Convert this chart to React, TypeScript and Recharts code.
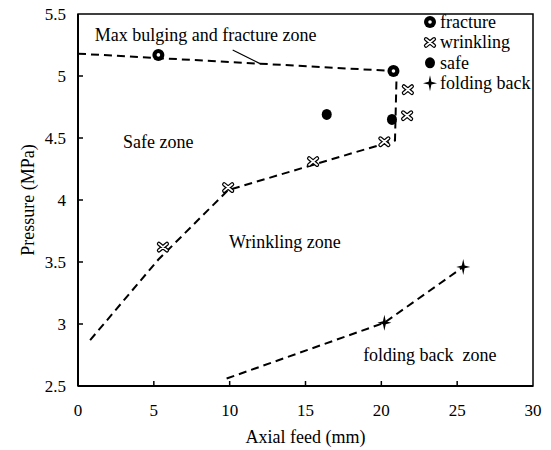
import React from "react";
import { ScatterChart, Scatter, XAxis, YAxis, ReferenceArea, Legend } from "recharts";

const FONT = '"Liberation Serif", "Times New Roman", serif';

// measured points (axial feed mm, pressure MPa)
const fracture = [
  { x: 5.3, y: 5.17 },
  { x: 20.8, y: 5.04 },
];
const wrinkling = [
  { x: 5.6, y: 3.62 },
  { x: 9.9, y: 4.1 },
  { x: 15.5, y: 4.31 },
  { x: 20.2, y: 4.47 },
  { x: 21.7, y: 4.68 },
  { x: 21.75, y: 4.89 },
];
const safe = [
  { x: 16.4, y: 4.69 },
  { x: 20.7, y: 4.65 },
];
const foldingBack = [
  { x: 20.2, y: 3.01 },
  { x: 25.4, y: 3.46 },
];

// zone boundaries (dashed)
const fractureBoundary = [
  { x: 0, y: 5.18 },
  { x: 20.8, y: 5.04 },
];
const wrinklingBoundary = [
  { x: 0.8, y: 2.87 },
  { x: 5.3, y: 3.52 },
  { x: 9.9, y: 4.08 },
  { x: 20.9, y: 4.48 },
  { x: 21.0, y: 4.98 },
];
const foldingBoundary = [
  { x: 9.8, y: 2.56 },
  { x: 20.2, y: 3.01 },
  { x: 25.4, y: 3.46 },
];
const leader = [
  { x: 10.2, y: 5.21 },
  { x: 12.0, y: 5.1 },
];

const zoneLabels = [
  { x: 1.1, y: 5.33, text: "Max bulging and fracture zone" },
  { x: 2.97, y: 4.47, text: "Safe zone" },
  { x: 9.95, y: 3.66, text: "Wrinkling zone" },
  { x: 18.8, y: 2.75, text: "folding back  zone" },
];

const xTicks = [0, 5, 10, 15, 20, 25, 30];
const yTicks = [2.5, 3, 3.5, 4, 4.5, 5, 5.5];

const Ring = ({ cx, cy }: any) => (
  <g>
    <circle cx={cx} cy={cy} r={6} fill="#000" />
    <circle cx={cx} cy={cy} r={1.8} fill="#fff" />
  </g>
);

const Dot = ({ cx, cy }: any) => <ellipse cx={cx} cy={cy} rx={5} ry={5.5} fill="#000" />;

const Cross = ({ cx, cy }: any) => {
  const d = `M${cx - 4},${cy - 3.3}L${cx + 4},${cy + 3.3}M${cx - 4},${cy + 3.3}L${cx + 4},${cy - 3.3}`;
  return (
    <g>
      <path d={d} stroke="#000" strokeWidth={4.2} strokeLinecap="round" fill="none" />
      <path d={d} stroke="#fff" strokeWidth={1.8} strokeLinecap="round" fill="none" />
    </g>
  );
};

const Star = ({ cx, cy }: any) => {
  const a = 7, b = 8, r = 1.4;
  const d = `M${cx},${cy - b}L${cx + r},${cy - r}L${cx + a},${cy}L${cx + r},${cy + r}L${cx},${cy + b}L${cx - r},${cy + r}L${cx - a},${cy}L${cx - r},${cy - r}Z`;
  return <path d={d} fill="#000" />;
};

const Nothing = () => <g />;

const ZoneText = ({ cx, cy, payload }: any) => (
  <text
    x={cx}
    y={cy}
    dominantBaseline="central"
    fontSize={18}
    fontFamily={FONT}
    fill="#000"
    style={{ whiteSpace: "pre" }}
  >
    {payload.text}
  </text>
);

const XTick = ({ x, y, payload }: any) => {
  const v = payload.value;
  const inner = v !== xTicks[0] && v !== xTicks[xTicks.length - 1];
  return (
    <g>
      {inner && <line x1={x} x2={x} y1={y} y2={y - 5} stroke="#000" strokeWidth={1.5} />}
      <text x={x} y={y + 30} textAnchor="middle" fontSize={17} fontFamily={FONT} fill="#000">
        {v}
      </text>
    </g>
  );
};

const YTick = ({ x, y, payload }: any) => {
  const v = payload.value;
  const inner = v !== yTicks[0] && v !== yTicks[yTicks.length - 1];
  return (
    <g>
      {inner && <line x1={x} x2={x + 5} y1={y} y2={y} stroke="#000" strokeWidth={1.5} />}
      <text x={x - 12} y={y + 6} textAnchor="end" fontSize={17} fontFamily={FONT} fill="#000">
        {v}
      </text>
    </g>
  );
};

const legendItems = [
  { name: "fracture", Shape: Ring },
  { name: "wrinkling", Shape: Cross },
  { name: "safe", Shape: Dot },
  { name: "folding back", Shape: Star },
];

const renderLegend = () => (
  <svg width={134} height={90}>
    {legendItems.map((it, i) => {
      const cy = 12 + i * 20.4;
      return (
        <g key={it.name}>
          <it.Shape cx={13} cy={cy} />
          <text x={23} y={cy} dominantBaseline="central" fontSize={18} fontFamily={FONT} fill="#000">
            {it.name}
          </text>
        </g>
      );
    })}
  </svg>
);

const dashed = { stroke: "#000", strokeWidth: 2, strokeDasharray: "8 5" };

export default function App() {
  return (
    <div style={{ position: "absolute", left: 0, top: 0, background: "#fff" }}>
      <ScatterChart width={551} height={450} margin={{ top: 14, right: 18, bottom: 0, left: 0 }}>
        <ReferenceArea x1={0} x2={30} y1={2.5} y2={5.5} fill="none" stroke="#000" strokeWidth={1.5} ifOverflow="visible" />
        <XAxis
          type="number"
          dataKey="x"
          domain={[0, 30]}
          ticks={xTicks}
          height={64}
          tickSize={0}
          tickMargin={0}
          tickLine={false}
          tick={<XTick />}
          axisLine={{ stroke: "#000", strokeWidth: 2 }}
          label={{ value: "Axial feed (mm)", position: "insideBottom", offset: 7, fontSize: 18, fontFamily: FONT, fill: "#000" }}
        />
        <YAxis
          type="number"
          dataKey="y"
          domain={[2.5, 5.5]}
          ticks={yTicks}
          width={78}
          tickSize={0}
          tickMargin={0}
          tickLine={false}
          tick={<YTick />}
          axisLine={{ stroke: "#000", strokeWidth: 2 }}
          label={{ value: "Pressure (MPa)", angle: -90, position: "insideLeft", offset: 28, fontSize: 18, fontFamily: FONT, fill: "#000", style: { textAnchor: "middle" } }}
        />
        <Scatter data={fractureBoundary} line={dashed} shape={<Nothing />} isAnimationActive={false} />
        <Scatter data={wrinklingBoundary} line={dashed} shape={<Nothing />} isAnimationActive={false} />
        <Scatter data={foldingBoundary} line={dashed} shape={<Nothing />} isAnimationActive={false} />
        <Scatter data={leader} line={{ stroke: "#000", strokeWidth: 1.2 }} shape={<Nothing />} isAnimationActive={false} />
        <Scatter name="fracture" data={fracture} shape={<Ring />} isAnimationActive={false} />
        <Scatter name="wrinkling" data={wrinkling} shape={<Cross />} isAnimationActive={false} />
        <Scatter name="safe" data={safe} shape={<Dot />} isAnimationActive={false} />
        <Scatter name="folding back" data={foldingBack} shape={<Star />} isAnimationActive={false} />
        <Scatter data={zoneLabels} shape={<ZoneText />} isAnimationActive={false} />
        <Legend
          layout="horizontal"
          verticalAlign="middle"
          align="center"
          content={renderLegend}
          wrapperStyle={{ position: "absolute", left: 417, top: 10, width: 134, height: 90 }}
        />
      </ScatterChart>
    </div>
  );
}
